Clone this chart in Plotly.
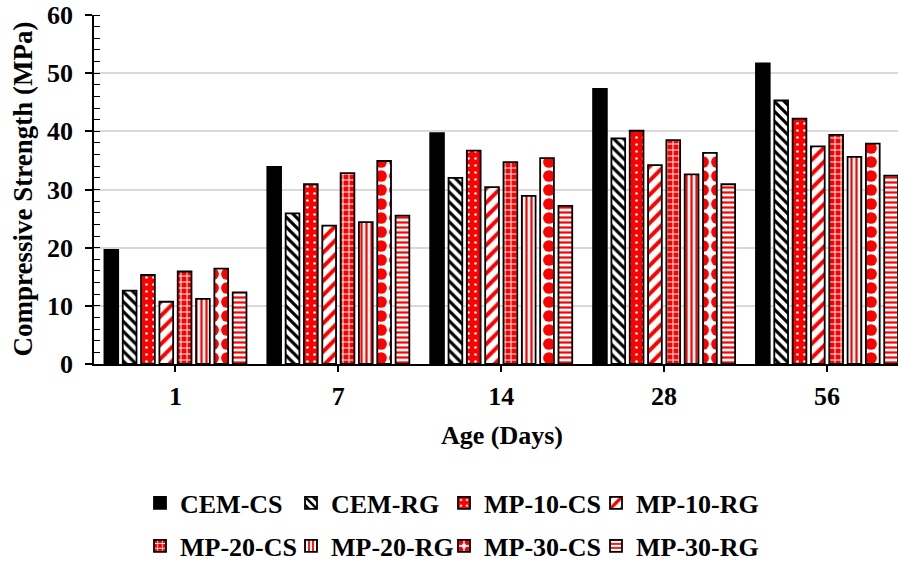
import plotly.graph_objects as go

# Curing age groups (days)
ages = ["1", "7", "14", "28", "56"]

# Compressive strength (MPa) of each mix at each age
cem_cs = [19.6, 33.9, 39.7, 47.3, 51.7]
cem_rg = [12.6, 25.9, 32.0, 38.8, 45.3]
mp10_cs = [15.3, 30.9, 36.7, 40.1, 42.2]
mp10_rg = [10.7, 23.8, 30.4, 34.2, 37.4]
mp20_cs = [15.9, 32.8, 34.7, 38.5, 39.4]
mp20_rg = [11.2, 24.4, 28.9, 32.6, 35.6]
mp30_cs = [16.4, 34.9, 35.4, 36.3, 37.9]
mp30_rg = [12.3, 25.5, 27.2, 30.9, 32.4]

series_names = ["CEM-CS", "CEM-RG", "MP-10-CS", "MP-10-RG",
                "MP-20-CS", "MP-20-RG", "MP-30-CS", "MP-30-RG"]
series_values = [cem_cs, cem_rg, mp10_cs, mp10_rg,
                 mp20_cs, mp20_rg, mp30_cs, mp30_rg]

RED = "#ff0000"
BLACK = "#000000"
WHITE = "#ffffff"

# fill style per series: (shape, foreground, background, size, solidity)
fills = [
    ("", BLACK, BLACK, 8, 0.3),
    ("\\", BLACK, WHITE, 7, 0.45),
    (".", WHITE, RED, 7, 0.12),
    ("/", RED, WHITE, 10, 0.4),
    ("+", WHITE, RED, 6, 0.3),
    ("|", RED, WHITE, 5, 0.45),
    (".", RED, WHITE, 14, 0.55),
    ("-", RED, WHITE, 5, 0.45),
]

FONT = "Liberation Serif"
W, H = 898, 565
PLOT_L, PLOT_W, PLOT_B, PLOT_H = 94, 804, 364, 349

# legend layout: 4 columns x 2 rows, one legend box per entry
col_px = [140, 291, 444, 596]
row_px = [503, 546]

fig = go.Figure()
legend_defs = {}
for i, (name, vals, fill) in enumerate(zip(series_names, series_values, fills)):
    shape, fg, bg, size, sol = fill
    key = f"legend{i + 2}"
    fig.add_trace(go.Bar(
        x=ages, y=vals, name=name, legend=key, showlegend=True,
        marker=dict(
            color=bg,
            line=dict(color=BLACK, width=1.8),
            pattern=dict(shape=shape, fgcolor=fg, bgcolor=bg,
                         size=size, solidity=sol, fillmode="replace"),
        ),
    ))
    legend_defs[key] = dict(
        orientation="h", xref="container", yref="container",
        xanchor="left", yanchor="middle",
        x=col_px[i % 4] / W,
        y=1 - row_px[i // 4] / H,
        font=dict(family=FONT, size=26, color=BLACK, weight="bold"),
        bgcolor="rgba(0,0,0,0)",
    )

fig.update_layout(
    width=W, height=H,
    margin=dict(l=PLOT_L, r=0, t=15, b=H - PLOT_B, autoexpand=False),
    paper_bgcolor=WHITE, plot_bgcolor=WHITE,
    barmode="group", bargap=0.1, bargroupgap=0.25,
    font=dict(family=FONT, size=26, color=BLACK, weight="bold"),
    xaxis=dict(
        type="category", range=[-0.5, 4.436],
        showline=True, linecolor=BLACK, linewidth=1.5,
        ticks="outside", ticklen=6, tickcolor=BLACK, tickwidth=1.5,
        ticklabelstandoff=2,
        tickfont=dict(family=FONT, size=26, color=BLACK, weight="bold"),
        showgrid=False, automargin=False,
    ),
    yaxis=dict(
        range=[0, 60], dtick=10, tick0=0,
        showline=True, linecolor=BLACK, linewidth=1.5,
        ticks="outside", ticklen=7, tickcolor=BLACK, tickwidth=1.5,
        ticklabelstandoff=7,
        minor=dict(dtick=2, ticks="inside", ticklen=6,
                   tickcolor=BLACK, tickwidth=1.2, showgrid=False),
        showgrid=True, gridcolor="#d9d9d9", gridwidth=1.5,
        tickfont=dict(family=FONT, size=26, color=BLACK, weight="bold"),
        zeroline=False, automargin=False,
    ),
    # inner half of the major y ticks (ticks cross the axis line)
    yaxis2=dict(
        overlaying="y", side="left", range=[0, 60], dtick=10, tick0=0,
        ticks="inside", ticklen=6, tickcolor=BLACK, tickwidth=1.5,
        showticklabels=False, showgrid=False, showline=False,
        zeroline=False, automargin=False,
    ),
    annotations=[
        dict(text="Compressive Strength (MPa)", textangle=-90,
             xref="paper", yref="paper", x=(22 - PLOT_L) / PLOT_W, y=0.5,
             xanchor="center", yanchor="middle", showarrow=False,
             font=dict(family=FONT, size=27, color=BLACK, weight="bold")),
        dict(text="Age (Days)",
             xref="paper", yref="paper", x=(502 - PLOT_L) / PLOT_W,
             y=(PLOT_B - 435) / PLOT_H,
             xanchor="center", yanchor="middle", showarrow=False,
             font=dict(family=FONT, size=26, color=BLACK, weight="bold")),
    ],
    **legend_defs,
)

fig.write_html("out.html")
